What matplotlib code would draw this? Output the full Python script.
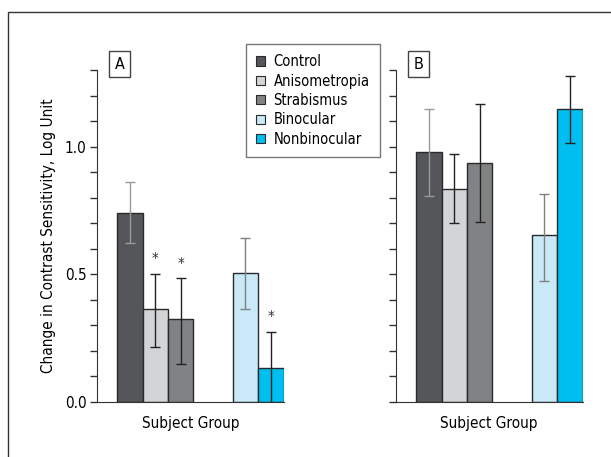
import matplotlib
matplotlib.use("Agg")
import matplotlib.pyplot as plt
from matplotlib.patches import Patch, Rectangle
import numpy as np

# fonte estreita, parecida com a do artigo
plt.rcParams['font.family'] = ['DejaVu Sans']
plt.rcParams['font.stretch'] = 'condensed'
plt.rcParams['font.size'] = 11

# grupos e valores
groups = ["Control", "Anisometropia", "Strabismus", "Binocular", "Nonbinocular"]
colors = ["#55565a", "#d3d4d6", "#808284", "#c9e9f9", "#00bff0"]
err_colors = ["#9a9a9a", "#222222", "#222222", "#808080", "#222222"]

# painel A
vals_a = [0.742, 0.365, 0.325, 0.506, 0.132]
lo_a = [0.624, 0.216, 0.150, 0.366, -0.012]
hi_a = [0.862, 0.502, 0.484, 0.642, 0.276]
star_a = [False, True, True, False, True]

# painel B
vals_b = [0.978, 0.835, 0.935, 0.655, 1.149]
lo_b = [0.808, 0.701, 0.703, 0.475, 1.013]
hi_b = [1.149, 0.971, 1.166, 0.813, 1.275]
star_b = [False, False, False, False, False]

xpos = [0, 1, 2, 4.55, 5.55]

fig = plt.figure(figsize=(6.11, 4.57), dpi=100)
W, H = 611, 457

# moldura externa
fig.patches.append(Rectangle((8 / W, -0.1), 1.2, 1 - 12 / H + 0.1,
                             transform=fig.transFigure, fill=False,
                             edgecolor="#333333", lw=1.0))


def painel(left_px, vals, lo, hi, stars, letra, show_labels):
    ax = fig.add_axes([left_px / W, 1 - 402 / H, 186.5 / W, 332 / H])
    for i in range(len(vals)):
        ax.bar(xpos[i], vals[i], width=1.0, color=colors[i],
               edgecolor="#2a2a2a", linewidth=1.0, zorder=2)
        ax.errorbar(xpos[i], vals[i],
                    yerr=[[vals[i] - lo[i]], [hi[i] - vals[i]]],
                    fmt="none", ecolor=err_colors[i], elinewidth=1.0,
                    capsize=3.5, capthick=1.0, zorder=3, clip_on=True)
        if stars[i]:
            ax.text(xpos[i], hi[i] + 0.055, "*", ha="center", va="center",
                    fontsize=11, color="#333333")
    ax.set_xlim(-1.3, 6.05)
    ax.set_ylim(0, 1.3)
    ax.set_yticks([0, 0.5, 1.0])
    ax.set_yticks(np.arange(0, 1.31, 0.1), minor=True)
    ax.set_xticks([])
    ax.tick_params(axis="y", which="both", direction="out", length=5,
                   width=1.0, color="#333333", pad=2.5)
    if show_labels:
        ax.set_yticklabels(["0.0", "0.5", "1.0"])
    else:
        ax.set_yticklabels([])
    for s in ["top", "right"]:
        ax.spines[s].set_visible(False)
    ax.spines["left"].set_color("#333333")
    ax.spines["bottom"].set_color("#333333")
    ax.set_xlabel("Subject Group", labelpad=10)
    ax.text(0.123, 1.018, letra, transform=ax.transAxes, ha="center",
            va="center", fontsize=11.5,
            bbox=dict(boxstyle="square,pad=0.35", facecolor="white",
                      edgecolor="#444444", lw=1.0))
    return ax


ax_a = painel(97, vals_a, lo_a, hi_a, star_a, "A", True)
ax_a.set_ylabel("Change in Contrast Sensitivity, Log Unit", labelpad=6)
ax_b = painel(396, vals_b, lo_b, hi_b, star_b, "B", False)

# legenda
handles = [Patch(facecolor=c, edgecolor="#2a2a2a", lw=0.8) for c in colors]
leg = fig.legend(handles, groups, loc="upper left",
                 bbox_to_anchor=(245.7 / W, 1 - 44 / H), borderaxespad=0,
                 frameon=True, fancybox=False, edgecolor="#555555",
                 handlelength=0.6, handleheight=0.6, handletextpad=0.6,
                 labelspacing=0.3, borderpad=0.7, fontsize=10.5)
leg.get_frame().set_linewidth(1.0)
leg.set_zorder(10)

fig.savefig("out.png", dpi=100)
